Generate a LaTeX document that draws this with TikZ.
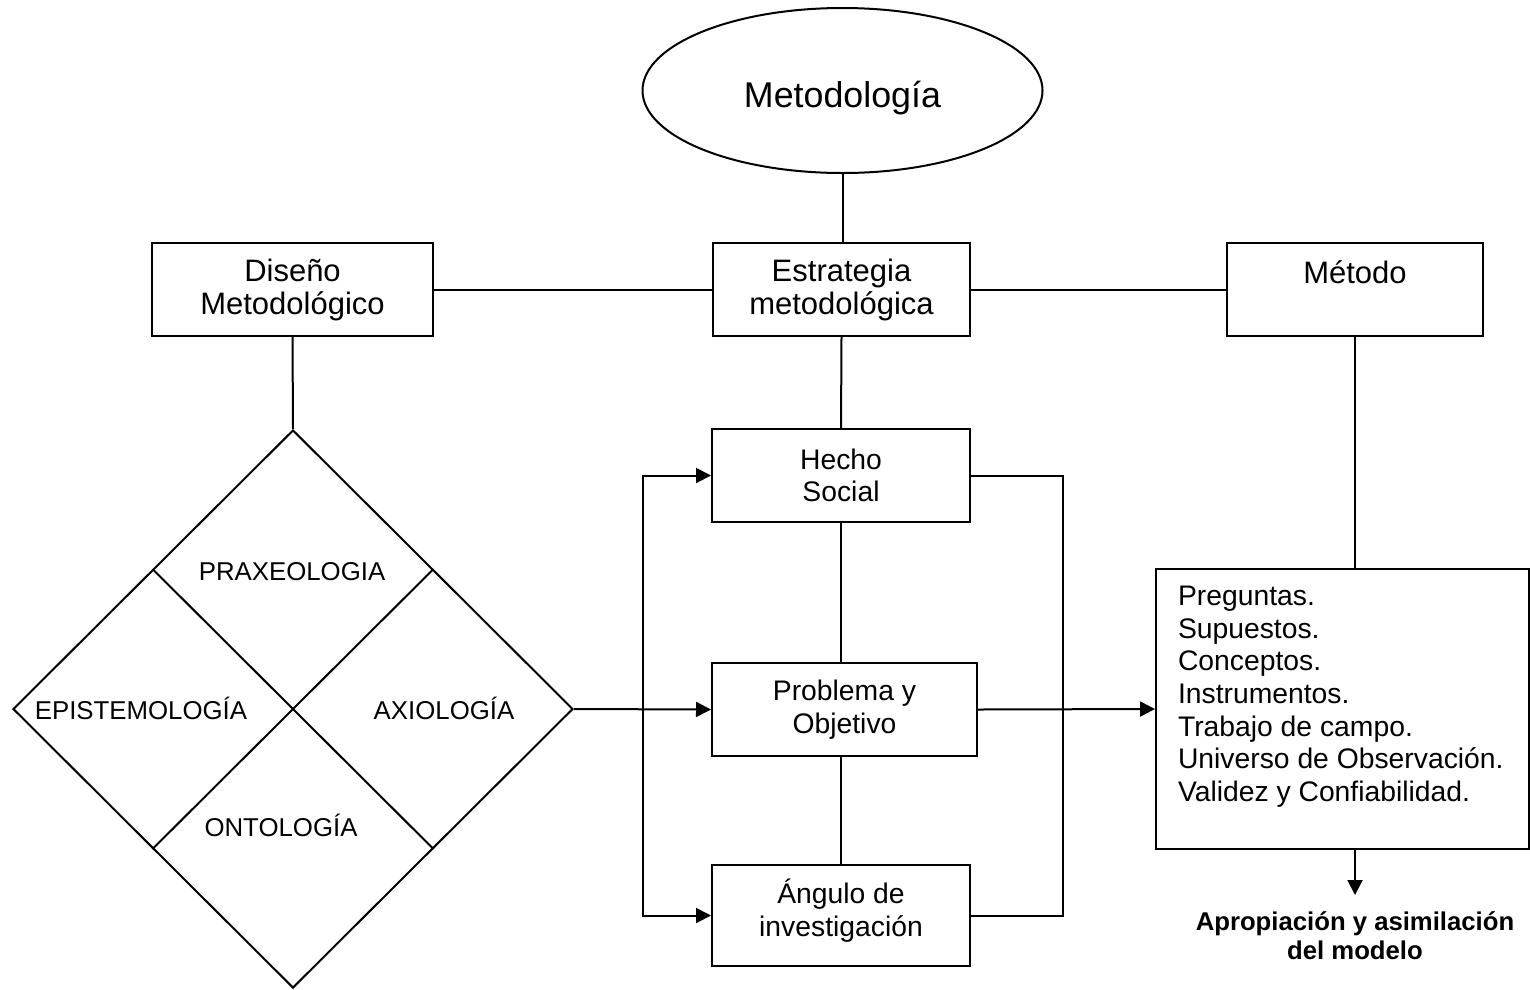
\documentclass[tikz,border=0pt]{standalone}
\usepackage{fontspec}
\setmainfont{Liberation Sans}
\usetikzlibrary{shapes.geometric,arrows.meta,calc}
\begin{document}
\begin{tikzpicture}[x=1pt,y=-1pt,line width=2pt,
  box/.style={draw,rectangle,inner sep=0pt,align=center},
  topfont/.style={font=\fontsize{31}{33}\selectfont},
  midfont/.style={font=\fontsize{28.3}{32.5}\selectfont},
  quad/.style={font=\fontsize{25.8}{29}\selectfont,inner sep=0pt,anchor=base},
  arr/.style={-{Triangle[length=15pt,width=15pt]}},
]
\useasboundingbox (0,0) rectangle (1530,989);

% top of the scheme
\node[draw,ellipse,minimum width=400pt,minimum height=165pt,inner sep=0pt,
      font=\fontsize{35.8}{40}\selectfont,text height=33pt,text depth=0pt]
      (metod) at (842.5,90.5) {Metodología};

\node[box,topfont,minimum width=281pt,minimum height=93pt] (dis) at (292.5,289.5)
      {Diseño\\Metodológico};
\node[box,topfont,minimum width=257pt,minimum height=93pt] (est) at (841.5,289.5)
      {Estrategia\\metodológica};
\node[box,topfont,minimum width=256pt,minimum height=93pt,
      text height=22pt,text depth=35pt,inner ysep=18pt] (meto) at (1355,289.5) {Método};

% middle column
\node[box,midfont,minimum width=258pt,minimum height=93pt] (hecho) at (841,475.5)
      {Hecho\\Social};
\node[box,midfont,minimum width=265pt,minimum height=93pt] (prob) at (844.5,709.5)
      {Problema y\\Objetivo};
\node[box,midfont,minimum width=258pt,minimum height=101pt,text depth=16pt] (ang) at (841,915.5)
      {Ángulo de\\investigación};

% right column
\node[box,minimum width=373pt,minimum height=280pt] (list) at (1342.5,709) {};
\node[font=\fontsize{28.3}{32.7}\selectfont,align=left,inner sep=0pt,anchor=north west]
      (items) at (1177,585)
      {Preguntas.\\Supuestos.\\Conceptos.\\Instrumentos.\\Trabajo de campo.\\Universo de Observación.\\Validez y Confiabilidad.};
\node[font=\bfseries\fontsize{25.7}{29}\selectfont,align=center,inner sep=0pt,anchor=north]
      (apro) at (1355,911) {Apropiación y asimilación\\del modelo};

% the four-part diamond
\node[draw,diamond,inner sep=0pt,minimum width=560pt,minimum height=558pt] (dia) at (293,709) {};
\draw ($(dia.north)!0.5!(dia.west)$) -- ($(dia.south)!0.5!(dia.east)$);
\draw ($(dia.north)!0.5!(dia.east)$) -- ($(dia.south)!0.5!(dia.west)$);
\node[quad] (praxe) at (292,580) {PRAXEOLOGIA};
\node[quad] (epist) at (141,719) {EPISTEMOLOGÍA};
\node[quad] (axio) at (444,719) {AXIOLOGÍA};
\node[quad] (onto) at (281,836) {ONTOLOGÍA};

% connectors
\draw (metod.south) -- (metod.south |- est.north);
\draw (dis.east) -- (est.west);
\draw (est.east) -- (meto.west);
\draw (dis.south) -- (dia.north);
\draw (est.south) -- (hecho.north);
\draw (hecho.south) -- (hecho.south |- prob.north);
\draw (ang.north |- prob.south) -- (ang.north);
\draw (meto.south) -- (meto.south |- list.north);

\coordinate (lbus) at (643,709.5);
\coordinate (rbus) at (1063,709.5);
\draw[arr] (dia.east) -- (prob.west);
\draw[arr] (lbus) |- (hecho.west);
\draw[arr] (lbus) |- (ang.west);
\draw (hecho.east) -| (rbus);
\draw (ang.east) -| (rbus);
\draw[arr] (prob.east) -- (list.west);
\draw[arr,shorten >=16pt] (list.south -| apro.north) -- (apro.north);
\end{tikzpicture}
\end{document}
